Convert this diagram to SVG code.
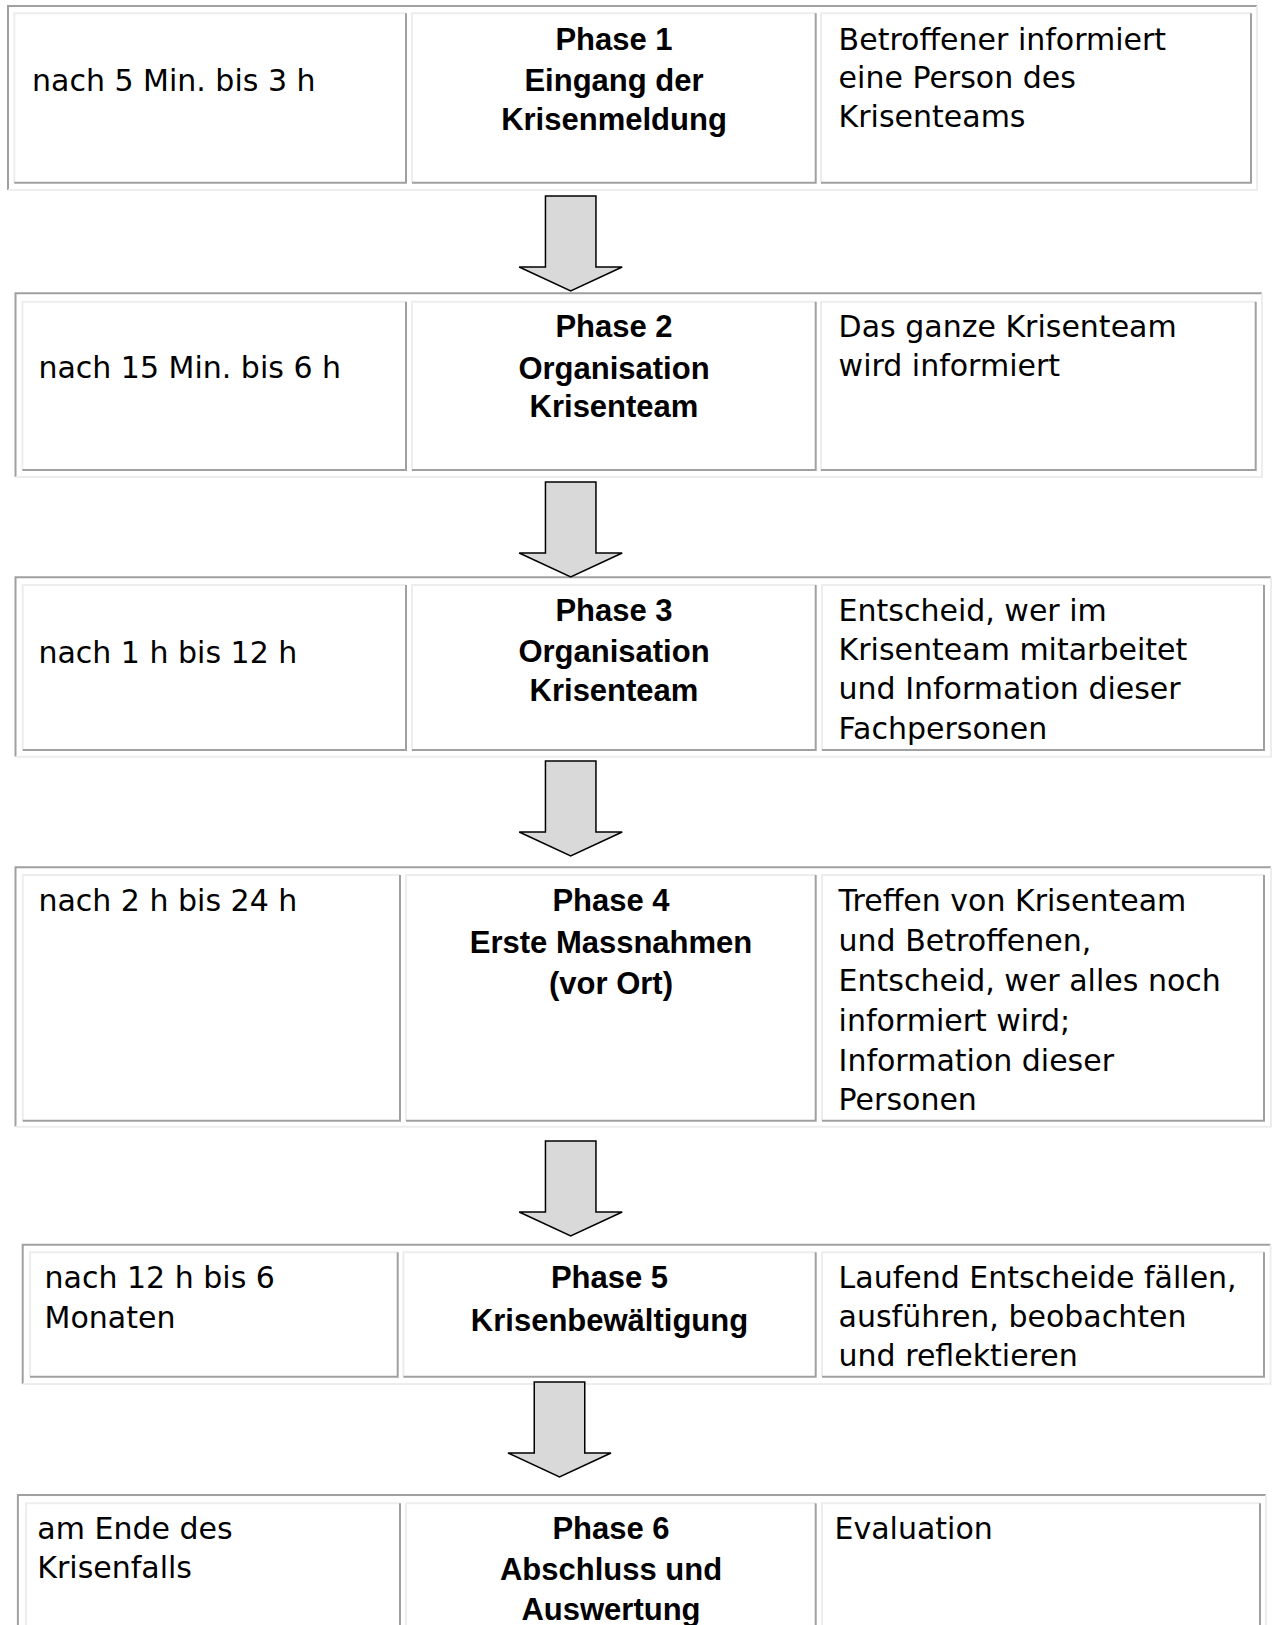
<svg xmlns="http://www.w3.org/2000/svg" xmlns:xlink="http://www.w3.org/1999/xlink" width="1273" height="1625" viewBox="0 0 1273 1625">
  <style>
    .dk { stroke: #a0a0a0; stroke-width: 2; fill: none; }
    .lt { stroke: #ededed; stroke-width: 2; fill: none; }
    .reg { font-family: "DejaVu Sans", "Liberation Sans", sans-serif; font-size: 30px; fill: #000; }
    .bold { font-family: "Liberation Sans", Arial, sans-serif; font-weight: bold; font-size: 31px; fill: #000; text-anchor: middle; }
    .arrow { fill: #d9d9d9; stroke: #000; stroke-width: 1.5; stroke-linejoin: miter; }
  </style>
  <defs>
    <!-- block arrow, origin at the top centre of the shaft -->
    <path id="down" d="M-25.25,0 H25.25 V71 H51.5 L0,95 L-51.5,71 H-25.25 Z"/>
  </defs>
  <rect width="1273" height="1625" fill="#fff"/>

  <!-- Phase 1 -->
  <g id="phase1">
    <path class="dk" d="M8,190 V6 H1257"/><path class="lt" d="M1257,6 V190 H8"/>
    <path class="lt" d="M14.3,182.7 V13.3 H406"/><path class="dk" d="M406,13.3 V182.7 H14.3"/>
    <path class="lt" d="M412,182.7 V13.3 H815.7"/><path class="dk" d="M815.7,13.3 V182.7 H412"/>
    <path class="lt" d="M821,182.7 V13.3 H1251"/><path class="dk" d="M1251,13.3 V182.7 H821"/>
    <text class="reg" x="32" y="91">nach 5 Min. bis 3 h</text>
    <text class="bold" x="614" y="50">Phase 1</text>
    <text class="bold" x="614" y="90.5">Eingang der</text>
    <text class="bold" x="614" y="130">Krisenmeldung</text>
    <text class="reg" x="838.6" y="49.5">Betroffener informiert</text>
    <text class="reg" x="838.6" y="88">eine Person des</text>
    <text class="reg" x="838.6" y="126.5">Krisenteams</text>
  </g>

  <!-- Phase 2 -->
  <g id="phase2">
    <path class="dk" d="M15.5,477 V293.3 H1262"/><path class="lt" d="M1262,293.3 V477 H15.5"/>
    <path class="lt" d="M22.4,470 V301.7 H406"/><path class="dk" d="M406,301.7 V470 H22.4"/>
    <path class="lt" d="M412,470 V301.7 H815.7"/><path class="dk" d="M815.7,301.7 V470 H412"/>
    <path class="lt" d="M821,470 V301.7 H1255.7"/><path class="dk" d="M1255.7,301.7 V470 H821"/>
    <text class="reg" x="38.4" y="378">nach 15 Min. bis 6 h</text>
    <text class="bold" x="614" y="336.5">Phase 2</text>
    <text class="bold" x="614" y="379">Organisation</text>
    <text class="bold" x="614" y="417.4">Krisenteam</text>
    <text class="reg" x="838.6" y="336.5">Das ganze Krisenteam</text>
    <text class="reg" x="838.6" y="376">wird informiert</text>
  </g>

  <!-- Phase 3 -->
  <g id="phase3">
    <path class="dk" d="M15.5,756.7 V577.3 H1271"/><path class="lt" d="M1271,577.3 V756.7 H15.5"/>
    <path class="lt" d="M22.7,750 V585 H406"/><path class="dk" d="M406,585 V750 H22.7"/>
    <path class="lt" d="M412,750 V585 H815.7"/><path class="dk" d="M815.7,585 V750 H412"/>
    <path class="lt" d="M822,750 V585 H1264"/><path class="dk" d="M1264,585 V750 H822"/>
    <text class="reg" x="38.4" y="663">nach 1 h bis 12 h</text>
    <text class="bold" x="614" y="620.5">Phase 3</text>
    <text class="bold" x="614" y="662">Organisation</text>
    <text class="bold" x="614" y="701">Krisenteam</text>
    <text class="reg" x="838.6" y="620.5">Entscheid, wer im</text>
    <text class="reg" x="838.6" y="660">Krisenteam mitarbeitet</text>
    <text class="reg" x="838.6" y="699.3">und Information dieser</text>
    <text class="reg" x="838.6" y="738.7">Fachpersonen</text>
  </g>

  <!-- Phase 4 -->
  <g id="phase4">
    <path class="dk" d="M15.5,1126.7 V867.3 H1271"/><path class="lt" d="M1271,867.3 V1126.7 H15.5"/>
    <path class="lt" d="M22.7,1120.7 V875 H400"/><path class="dk" d="M400,875 V1120.7 H22.7"/>
    <path class="lt" d="M406,1120.7 V875 H815.7"/><path class="dk" d="M815.7,875 V1120.7 H406"/>
    <path class="lt" d="M822,1120.7 V875 H1264"/><path class="dk" d="M1264,875 V1120.7 H822"/>
    <text class="reg" x="38.4" y="911">nach 2 h bis 24 h</text>
    <text class="bold" x="611" y="911">Phase 4</text>
    <text class="bold" x="611" y="953">Erste Massnahmen</text>
    <text class="bold" x="611" y="993.7">(vor Ort)</text>
    <text class="reg" x="838.6" y="911">Treffen von Krisenteam</text>
    <text class="reg" x="838.6" y="951">und Betroffenen,</text>
    <text class="reg" x="838.6" y="991.4">Entscheid, wer alles noch</text>
    <text class="reg" x="838.6" y="1031">informiert wird;</text>
    <text class="reg" x="838.6" y="1070.5">Information dieser</text>
    <text class="reg" x="838.6" y="1110">Personen</text>
  </g>

  <!-- Phase 5 -->
  <g id="phase5">
    <path class="dk" d="M22.7,1384 V1244.7 H1270.5"/><path class="lt" d="M1270.5,1244.7 V1384 H22.7"/>
    <path class="lt" d="M30,1376.7 V1252.3 H397.7"/><path class="dk" d="M397.7,1252.3 V1376.7 H30"/>
    <path class="lt" d="M403.4,1376.7 V1252.3 H815.7"/><path class="dk" d="M815.7,1252.3 V1376.7 H403.4"/>
    <path class="lt" d="M822,1376.7 V1252.3 H1264"/><path class="dk" d="M1264,1252.3 V1376.7 H822"/>
    <text class="reg" x="44.6" y="1288">nach 12 h bis 6</text>
    <text class="reg" x="44.6" y="1327.5">Monaten</text>
    <text class="bold" x="609.5" y="1288">Phase 5</text>
    <text class="bold" x="609.5" y="1330.6">Krisenbewältigung</text>
    <text class="reg" x="838.6" y="1288">Laufend Entscheide fällen,</text>
    <text class="reg" x="838.6" y="1327">ausführen, beobachten</text>
    <text class="reg" x="838.6" y="1366">und reflektieren</text>
  </g>

  <!-- Phase 6 (continues past the lower edge) -->
  <g id="phase6">
    <path class="dk" d="M17.9,1680 V1495 H1266"/><path class="lt" d="M1266,1495 V1680"/>
    <path class="lt" d="M26,1670 V1503.3 H400"/><path class="dk" d="M400,1503.3 V1670"/>
    <path class="lt" d="M406,1670 V1503.3 H815.7"/><path class="dk" d="M815.7,1503.3 V1670"/>
    <path class="lt" d="M822,1670 V1503.3 H1260"/><path class="dk" d="M1260,1503.3 V1670"/>
    <text class="reg" x="37.3" y="1539">am Ende des</text>
    <text class="reg" x="37.3" y="1578">Krisenfalls</text>
    <text class="bold" x="611" y="1539">Phase 6</text>
    <text class="bold" x="611" y="1580">Abschluss und</text>
    <text class="bold" x="611" y="1620">Auswertung</text>
    <text class="reg" x="834.5" y="1539">Evaluation</text>
  </g>

  <!-- connectors between the phases -->
  <g id="connectors">
    <use xlink:href="#down" href="#down" class="arrow" transform="translate(570.7,196)"/>
    <use xlink:href="#down" href="#down" class="arrow" transform="translate(570.7,482)"/>
    <use xlink:href="#down" href="#down" class="arrow" transform="translate(570.7,761)"/>
    <use xlink:href="#down" href="#down" class="arrow" transform="translate(570.7,1141)"/>
    <use xlink:href="#down" href="#down" class="arrow" transform="translate(559.5,1382)"/>
  </g>
</svg>
